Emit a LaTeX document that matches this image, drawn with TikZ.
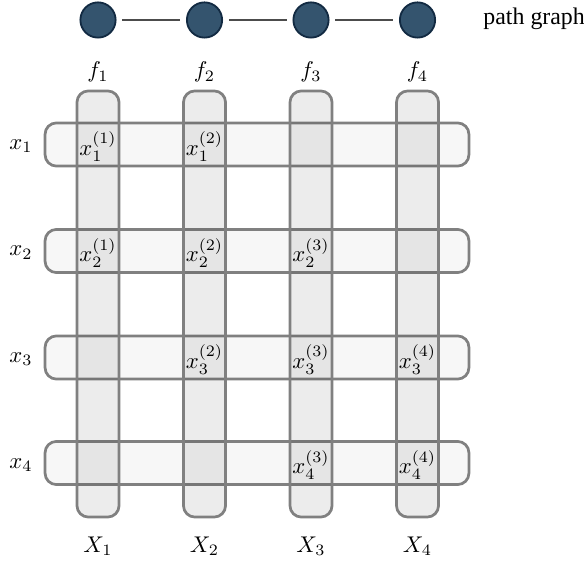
\documentclass[tikz,border=0pt]{standalone}
\usepackage{amsmath}
\usepackage{fontspec}
\setmainfont{Liberation Serif}
\usetikzlibrary{positioning}
\definecolor{vfill}{RGB}{52,84,110}
\definecolor{vline}{RGB}{18,42,66}
\definecolor{boxline}{RGB}{128,128,128}
\tikzset{
  vert/.style={circle, draw=vline, line width=0.8pt, fill=vfill, minimum size=15.5pt, inner sep=0pt, outer sep=3pt},
  colbox/.style={draw=boxline, line width=1.2pt, fill=black, fill opacity=0.075, draw opacity=1, rounded corners=5pt, minimum width=18.5pt, minimum height=187.5pt, inner sep=0pt},
  rowbox/.style={draw=boxline, line width=1.2pt, fill=black, fill opacity=0.03, draw opacity=1, rounded corners=5pt, minimum width=186.5pt, minimum height=19pt, inner sep=0pt},
  entry/.style={inner sep=0pt, text opacity=1}
}

\begin{document}
\begin{tikzpicture}[x=0.44pt,y=-0.44pt]

  \useasboundingbox (0,0) rectangle (584,565);

  % path graph
  \node[vert] (v1) at (98,20) {};
  \node[vert] (v2) at (204.5,20) {};
  \node[vert] (v3) at (311,20) {};
  \node[vert] (v4) at (417.5,20) {};
  \node[anchor=west, inner sep=0pt, font=\fontsize{10.5}{12}\selectfont] (pg) at (483,19) {path graph};

  \draw[black!70, line width=0.8pt] (v1) -- (v2);
  \draw[black!70, line width=0.8pt] (v2) -- (v3);
  \draw[black!70, line width=0.8pt] (v3) -- (v4);

  % rows
  \node[rowbox] (r1) at (257,144.5) {};
  \node[rowbox] (r2) at (257,251) {};
  \node[rowbox] (r3) at (257,357.5) {};
  \node[rowbox] (r4) at (257,463) {};

  % columns
  \node[colbox] (c1) at (98,304) {};
  \node[colbox] (c2) at (204.5,304) {};
  \node[colbox] (c3) at (311,304) {};
  \node[colbox] (c4) at (417.5,304) {};

  \node (f1) at (98,72) {$f_{1}$};
  \node (f2) at (204.5,72) {$f_{2}$};
  \node (f3) at (311,72) {$f_{3}$};
  \node (f4) at (417.5,72) {$f_{4}$};

  \node (X1) at (98,546) {$X_{1}$};
  \node (X2) at (204.5,546) {$X_{2}$};
  \node (X3) at (311,546) {$X_{3}$};
  \node (X4) at (417.5,546) {$X_{4}$};

  \node (x1) at (21,146) {$x_{1}$};
  \node (x2) at (21,252.5) {$x_{2}$};
  \node (x3) at (21,359) {$x_{3}$};
  \node (x4) at (21,465) {$x_{4}$};

  % entries
  \node[entry] (e11) at (98,146.5) {$x_{1}^{(1)}$};
  \node[entry] (e12) at (204.5,146.5) {$x_{1}^{(2)}$};
  \node[entry] (e21) at (98,253) {$x_{2}^{(1)}$};
  \node[entry] (e22) at (204.5,253) {$x_{2}^{(2)}$};
  \node[entry] (e23) at (311,253) {$x_{2}^{(3)}$};
  \node[entry] (e32) at (204.5,359.5) {$x_{3}^{(2)}$};
  \node[entry] (e33) at (311,359.5) {$x_{3}^{(3)}$};
  \node[entry] (e34) at (417.5,359.5) {$x_{3}^{(4)}$};
  \node[entry] (e43) at (311,465) {$x_{4}^{(3)}$};
  \node[entry] (e44) at (417.5,465) {$x_{4}^{(4)}$};

\end{tikzpicture}
\end{document}
